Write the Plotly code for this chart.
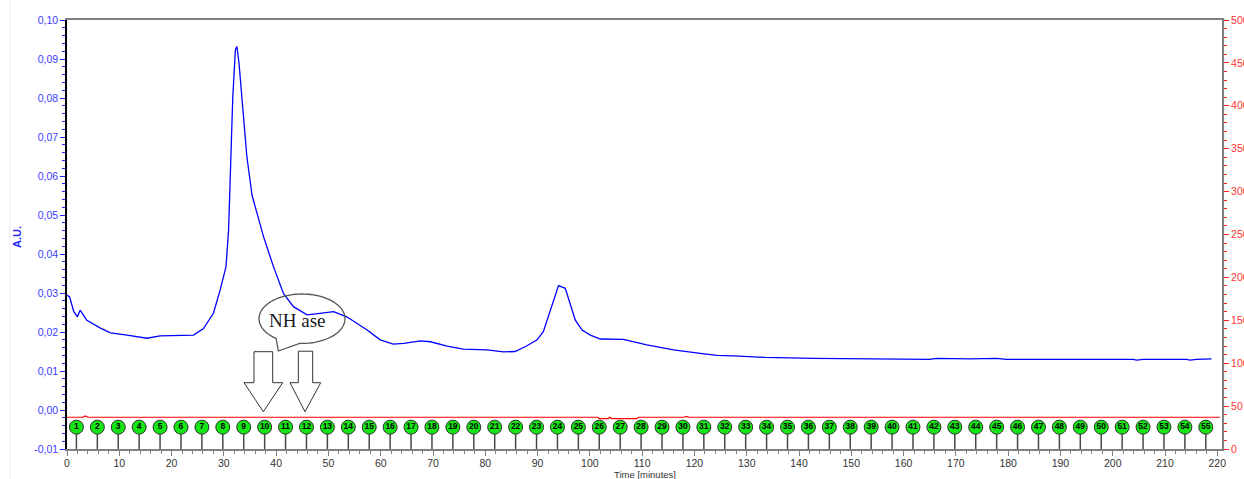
import plotly.graph_objects as go
import math

# ---------------- data ----------------
# Absorbance trace (left axis, A.U.)
abs_time = [0, 0.5, 1.3, 2.0, 2.5, 3.8, 6.4, 8.3, 11.5, 15.3, 17.8, 21.0, 24.2, 26.1,
            28.0, 29.3, 30.4, 30.9, 31.3, 31.7, 32.2, 32.5, 32.9, 33.5, 34.4, 35.4,
            37.6, 39.5, 41.4, 43.3, 45.9, 48.4, 51.0, 53.5, 57.4, 59.9, 62.4, 64.4,
            67.6, 69.5, 72.7, 75.8, 80.3, 83.5, 85.7, 87.9, 89.9, 91.1, 92.4, 93.4,
            94.0, 95.3, 96.2, 97.2, 98.5, 100.1, 102.0, 106.4, 110.9, 116.0, 121.1,
            124.3, 127.5, 133.5, 142.8, 155.5, 164.5, 165.0, 166.3, 172.7, 177.8,
            179.7, 203.9, 204.6, 205.8, 214.1, 214.8, 216.0, 218.9]
abs_value = [0.0295, 0.0290, 0.0252, 0.0239, 0.0256, 0.0230, 0.0210, 0.0198, 0.0192,
             0.0184, 0.0190, 0.0191, 0.0192, 0.0209, 0.0248, 0.0308, 0.0367, 0.0460,
             0.0630, 0.0800, 0.0923, 0.0932, 0.0889, 0.0800, 0.0650, 0.0550, 0.0444,
             0.0367, 0.0299, 0.0265, 0.0244, 0.0248, 0.0252, 0.0239, 0.0205, 0.0180,
             0.0169, 0.0171, 0.0177, 0.0175, 0.0164, 0.0156, 0.0154, 0.0149, 0.0150,
             0.0164, 0.0180, 0.0201, 0.0256, 0.0299, 0.0319, 0.0312, 0.0274, 0.0231,
             0.0205, 0.0192, 0.0182, 0.0181, 0.0167, 0.0154, 0.01453, 0.0140, 0.0139,
             0.0135, 0.01325, 0.0131, 0.0131, 0.0130, 0.01325, 0.0131, 0.01325,
             0.0130, 0.0130, 0.0128, 0.0130, 0.0130, 0.0128, 0.0130, 0.0131]

# Second detector trace (right axis)
red_time = [0, 3.0, 3.5, 4.0, 101.5, 101.8, 103.5, 103.8, 104.2, 109.0, 109.3,
            118.0, 118.5, 119.0, 220.5]
red_value = [37, 37, 38.5, 37, 37, 35.5, 35.5, 37, 35.5, 35.5, 37, 37, 38, 37, 37]

# Fraction collector marks
fraction_number = list(range(1, 56))
fraction_time = [1.8, 5.8, 9.8, 13.8, 17.8, 21.8, 25.8, 29.8, 33.8, 37.8, 41.8,
                 45.8, 49.8, 53.8, 57.8, 61.8, 65.8, 69.8, 73.8, 77.8, 81.8, 85.8,
                 89.8, 93.8, 97.8, 101.8, 105.8, 109.8, 113.8, 117.8, 121.8, 125.8,
                 129.8, 133.8, 137.8, 141.8, 145.8, 149.8, 153.8, 157.8, 161.8,
                 165.8, 169.8, 173.8, 177.8, 181.8, 185.8, 189.8, 193.8, 197.8,
                 201.8, 205.8, 209.8, 213.8, 217.8]
fraction_level = -0.0044

# Axis ticks
x_ticks = list(range(0, 221, 10))
y_ticks = [-0.01, 0.0, 0.01, 0.02, 0.03, 0.04, 0.05, 0.06, 0.07, 0.08, 0.09, 0.10]
y_ticktext = ["-0,01", "0,00", "0,01", "0,02", "0,03", "0,04", "0,05", "0,06",
              "0,07", "0,08", "0,09", "0,10"]
y2_ticks = list(range(0, 501, 50))

# ---------------- layout constants ----------------
W, H = 1244, 479
ML, MR, MT, MB = 67, 22, 20, 30
XMAX = 220.9
YMIN, YMAX = -0.01, 0.10
PW = W - ML - MR
PH = H - MT - MB


def px2t(px):
    return (px - ML) / PW * XMAX


def py2v(py):
    return YMIN + (H - MB - py) / PH * (YMAX - YMIN)


def path_from_px(points):
    pts = [(px2t(x), py2v(y)) for x, y in points]
    s = "M {:.4f},{:.6f}".format(*pts[0])
    for p in pts[1:]:
        s += " L {:.4f},{:.6f}".format(*p)
    return s + " Z"


fig = go.Figure()

# red trace (right axis)
fig.add_trace(go.Scatter(x=red_time, y=red_value, yaxis="y2", mode="lines",
                         line=dict(color="#ff0000", width=1.2), hoverinfo="skip"))

# blue absorbance trace
fig.add_trace(go.Scatter(x=abs_time, y=abs_value, mode="lines",
                         line=dict(color="#0000ff", width=1.3), hoverinfo="skip"))

# fraction stems
stem_x, stem_y = [], []
for t in fraction_time:
    stem_x += [t, t, None]
    stem_y += [fraction_level, YMIN, None]
fig.add_trace(go.Scatter(x=stem_x, y=stem_y, mode="lines",
                         line=dict(color="#484848", width=1.5), hoverinfo="skip"))

# fraction markers
fig.add_trace(go.Scatter(
    x=fraction_time, y=[fraction_level] * len(fraction_time),
    mode="markers+text", text=[str(n) for n in fraction_number],
    textposition="middle center",
    textfont=dict(family="Liberation Sans", size=8.5, color="#000000", weight="bold"),
    marker=dict(size=14, color="#14e614", line=dict(color="#303030", width=1)),
    hoverinfo="skip"))

# ---------------- callout + arrows ----------------
cx, cy, rx, ry = 302, 318.7, 43, 24.7
ell = []
for i in range(0, 81):
    a = math.radians(127 + (453 - 127) * i / 80)
    ell.append((cx + rx * math.cos(a), cy + ry * math.sin(a)))
ell.append((278.3, 351))
shapes = [
    dict(type="path", xref="x", yref="y", path=path_from_px(ell),
         line=dict(color="#555555", width=1.3), fillcolor="rgba(0,0,0,0)"),
    dict(type="path", xref="x", yref="y",
         path=path_from_px([(254, 351.7), (272.7, 351.7), (272.7, 382.7), (282.7, 382.7),
                            (263.3, 411.7), (244, 382.7), (254, 382.7)]),
         line=dict(color="#333333", width=1), fillcolor="white"),
    dict(type="path", xref="x", yref="y",
         path=path_from_px([(298.3, 351.2), (312.7, 351.2), (312.7, 382.7), (320.7, 382.7),
                            (305, 411.7), (290, 382.7), (298.3, 382.7)]),
         line=dict(color="#333333", width=1), fillcolor="white"),
    # faint window border on the left
    dict(type="line", xref="paper", yref="paper", x0=(10 - ML) / PW, x1=(10 - ML) / PW,
         y0=-MB / PH, y1=(H - MB) / PH, line=dict(color="#ececec", width=1)),
]

annotations = [
    dict(x=px2t(297), y=py2v(320), xref="x", yref="y", text="NH ase", showarrow=False,
         font=dict(family="Liberation Serif", size=19, color="#1a1a1a")),
    dict(x=(17 - ML) / PW, y=(H - MB - 237) / PH, xref="paper", yref="paper",
         xanchor="center", yanchor="middle",
         text="<b>A.U.</b>", textangle=-90, showarrow=False,
         font=dict(family="Liberation Sans", size=11, color="#2a2aff")),
    dict(x=0.5, y=(H - MB - 474.5) / PH, xref="paper", yref="paper",
         xanchor="center", text="Time [minutes]", showarrow=False, yanchor="middle",
         font=dict(family="Liberation Sans", size=9.5, color="#333333")),
]

fig.update_layout(
    template="none",
    width=W, height=H,
    margin=dict(l=ML, r=MR, t=MT, b=MB, pad=0, autoexpand=False),
    paper_bgcolor="white", plot_bgcolor="white",
    showlegend=False,
    shapes=shapes, annotations=annotations,
    xaxis=dict(range=[0, XMAX], tickmode="array", tickvals=x_ticks,
               ticks="outside", ticklen=5, tickwidth=1, tickcolor="#808080",
               ticklabelstandoff=-2,
               tickfont=dict(family="Liberation Sans", size=10.5, color="#333333"),
               showline=True, linecolor="#808080", linewidth=2, mirror=True,
               showgrid=False, zeroline=False, automargin=False,
               minor=dict(tickmode="linear", tick0=0, dtick=2, ticks="outside",
                          ticklen=3, tickcolor="#808080")),
    yaxis=dict(range=[YMIN, YMAX], tickmode="array", tickvals=y_ticks, ticktext=y_ticktext,
               ticks="outside", ticklen=5, tickwidth=1, tickcolor="#2020ff",
               tickfont=dict(family="Liberation Sans", size=10.5, color="#3b3bff"),
               showline=True, linecolor="#000000", linewidth=1.5,
               showgrid=False, zeroline=False, automargin=False,
               minor=dict(tickmode="linear", tick0=0, dtick=0.002, ticks="outside",
                          ticklen=3, tickcolor="#2020ff")),
    yaxis2=dict(range=[0, 500], overlaying="y", side="right", anchor="x",
                tickmode="array", tickvals=y2_ticks,
                ticks="outside", ticklen=5, tickwidth=1, tickcolor="#ff2020",
                tickfont=dict(family="Liberation Sans", size=10.5, color="#ff3030"),
                showline=True, linecolor="#808080", linewidth=2,
                showgrid=False, zeroline=False, automargin=False,
                minor=dict(tickmode="linear", tick0=0, dtick=10, ticks="outside",
                           ticklen=3, tickcolor="#ff2020")),
)

fig.write_html("out.html", config={"displayModeBar": False},
               post_script="document.body.style.margin='0';")
